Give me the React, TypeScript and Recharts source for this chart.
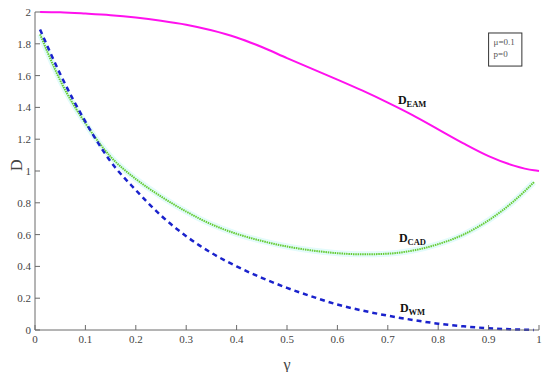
import React from "react";
import {
  LineChart,
  Line,
  XAxis,
  YAxis,
  ReferenceDot,
  ReferenceArea,
} from "recharts";

// gamma samples and the three distortion curves
const GAMMA = [0.01, 0.05, 0.1, 0.15, 0.2, 0.25, 0.3, 0.35, 0.4, 0.45, 0.5, 0.55, 0.6, 0.65, 0.7, 0.75, 0.8, 0.85, 0.9, 0.95, 0.99, 1.0];
const D_EAM = [2.0, 1.998, 1.99, 1.98, 1.965, 1.945, 1.92, 1.885, 1.84, 1.78, 1.71, 1.642, 1.575, 1.505, 1.43, 1.35, 1.262, 1.174, 1.094, 1.034, 1.004, 1.0];
const D_CAD = [1.86, 1.57, 1.3, 1.09, 0.95, 0.84, 0.745, 0.665, 0.605, 0.56, 0.525, 0.5, 0.483, 0.476, 0.48, 0.5, 0.54, 0.6, 0.69, 0.81, 0.93, null];
const D_WM = [1.89, 1.61, 1.31, 1.06, 0.88, 0.72, 0.59, 0.485, 0.4, 0.328, 0.265, 0.21, 0.16, 0.122, 0.09, 0.063, 0.04, 0.023, 0.011, 0.004, 0.0, null];

const X_TICKS = [0, 0.1, 0.2, 0.3, 0.4, 0.5, 0.6, 0.7, 0.8, 0.9, 1];
const Y_TICKS = [0, 0.2, 0.4, 0.6, 0.8, 1, 1.2, 1.4, 1.6, 1.8, 2];

const data = GAMMA.map((g, i) => ({ g, eam: D_EAM[i], cad: D_CAD[i], wm: D_WM[i] }));

const AX = "#6b6b6b";
const SERIF = "'Liberation Serif', 'Times New Roman', 'DejaVu Serif', serif";
const TXT = { fontFamily: SERIF, fontSize: 11, fill: "#444" };

const BottomTick = ({ x, y, payload }: any) => (
  <g>
    <line x1={x} y1={y} x2={x} y2={y - 5} stroke={AX} />
    <text x={x} y={y + 13} textAnchor="middle" style={TXT}>{String(payload.value)}</text>
  </g>
);
const TopTick = ({ x, y }: any) => <line x1={x} y1={y} x2={x} y2={y + 5} stroke={AX} />;
const LeftTick = ({ x, y, payload }: any) => (
  <g>
    <line x1={x} y1={y} x2={x + 5} y2={y} stroke={AX} />
    <text x={x - 4} y={y + 4} textAnchor="end" style={TXT}>{String(payload.value)}</text>
  </g>
);
const RightTick = ({ x, y }: any) => <line x1={x} y1={y} x2={x - 5} y2={y} stroke={AX} />;

const curveLabel = (main: string, sub: string) => (props: any) => (
  <text x={props.cx} y={props.cy} style={{ fontFamily: SERIF, fontSize: 12, fill: "#111", fontWeight: "bold" }}>
    {main}
    <tspan style={{ fontSize: 8.5 }} dy={3}>{sub}</tspan>
  </text>
);

export default function App() {
  return (
    <div style={{ position: "absolute", left: 0, top: 0, background: "#fff" }}>
      <LineChart width={550} height={372} data={data} margin={{ top: 12, right: 11, left: 10, bottom: 12 }}>
        <XAxis
          dataKey="g"
          type="number"
          domain={[0, 1]}
          ticks={X_TICKS}
          tickSize={0}
          tickMargin={0}
          height={30}
          tickLine={false}
          axisLine={{ stroke: AX }}
          tick={<BottomTick />}
          label={{ value: "γ", position: "insideBottom", offset: -10, style: { fontFamily: SERIF, fontSize: 16, fill: "#444" } }}
        />
        <XAxis
          xAxisId="top"
          dataKey="g"
          type="number"
          orientation="top"
          domain={[0, 1]}
          ticks={X_TICKS.slice(1, -1)}
          tickSize={0}
          tickMargin={0}
          height={0}
          tickLine={false}
          axisLine={{ stroke: AX }}
          tick={<TopTick />}
        />
        <YAxis
          type="number"
          domain={[0, 2]}
          ticks={Y_TICKS}
          tickSize={0}
          tickMargin={0}
          width={25}
          tickLine={false}
          axisLine={{ stroke: AX }}
          tick={<LeftTick />}
          label={{ value: "D", angle: -90, position: "insideLeft", offset: 6, style: { fontFamily: SERIF, fontSize: 16, fill: "#444" } }}
        />
        <YAxis
          yAxisId="right"
          orientation="right"
          type="number"
          domain={[0, 2]}
          ticks={Y_TICKS.slice(1, -1)}
          tickSize={0}
          tickMargin={0}
          width={0}
          tickLine={false}
          axisLine={{ stroke: AX }}
          tick={<RightTick />}
        />
        {/* faint cyan halo that sits under the CAD curve */}
        <Line dataKey="cad" type="monotone" stroke="#e3fbfb" strokeWidth={6} dot={false} isAnimationActive={false} />
        <Line dataKey="eam" type="monotone" stroke="#ff11ee" strokeWidth={2} dot={false} isAnimationActive={false} />
        <Line dataKey="cad" type="monotone" stroke="#66cc33" strokeWidth={2} strokeDasharray="1.5 0.8" dot={false} isAnimationActive={false} />
        <Line dataKey="wm" type="monotone" stroke="#1a22cc" strokeWidth={2.5} strokeDasharray="5 4" dot={false} isAnimationActive={false} />
        <ReferenceDot x={0.72} y={1.42} r={0} shape={curveLabel("D", "EAM")} />
        <ReferenceDot x={0.722} y={0.553} r={0} shape={curveLabel("D", "CAD")} />
        <ReferenceDot x={0.724} y={0.113} r={0} shape={curveLabel("D", "WM")} />
        <ReferenceArea
          x1={0.9}
          x2={0.966}
          y1={1.66}
          y2={1.868}
          shape={(p: any) => (
            <g>
              <rect x={p.x} y={p.y} width={p.width} height={p.height} fill="#fff" stroke="#333" />
              <text x={p.x + 5} y={p.y + 12} style={{ fontFamily: SERIF, fontSize: 9, fill: "#555" }}>μ=0.1</text>
              <text x={p.x + 5} y={p.y + 24} style={{ fontFamily: SERIF, fontSize: 9, fill: "#555" }}>p=0</text>
            </g>
          )}
        />
      </LineChart>
    </div>
  );
}
